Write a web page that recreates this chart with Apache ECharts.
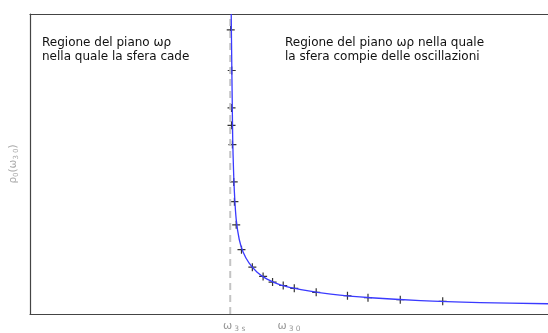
<!DOCTYPE html>
<html>
<head>
<meta charset="utf-8">
<script src="https://cdn.jsdelivr.net/npm/echarts@6/dist/echarts.min.js"></script>
<style>html,body{margin:0;padding:0;background:#fff}#c{width:548px;height:333px}</style>
</head>
<body>
<div id="c"></div>
<script>
// x in arbitrary omega units, y in arbitrary rho units
const xRange = [0, 520];
const yRange = [0, 301];
const asymptoteX = 201;
const tickValues = [205, 260];
const tickLabels = ['{w|ω}{s|3 s}', '{w|ω}{s|3 0}'];
const curveX = [202, 202.5, 203, 203.5, 204.3, 205.3, 207, 210, 214, 220, 228, 238, 252, 272, 302, 342, 392, 452, 520];
const curveY = [301, 255, 215, 175, 145, 120, 95, 75, 62, 51, 42, 35, 29, 24.5, 20, 16.3, 13.4, 11.5, 10.3];
const measX = [201.5, 202.5, 202.3, 202.3, 203.2, 204.5, 205.2, 207, 212.3, 223.2, 234, 243.5, 254.2, 265.3, 287.3, 318.7, 339.3, 371.7, 414.3];
const measY = [285, 244.3, 206.8, 189.3, 170, 132.5, 112.7, 89.5, 64.5, 47, 37.7, 32, 28.6, 25.8, 21.7, 18.3, 16.3, 14.3, 12.7];

const chart = echarts.init(document.getElementById('c'), null, {renderer: 'canvas'});
const font = 'DejaVu Sans';
chart.setOption({
  animation: false,
  backgroundColor: '#fff',
  grid: {left: 28, right: 0, top: 14, bottom: 18, containLabel: false},
  xAxis: [{
    type: 'value', min: xRange[0], max: xRange[1],
    axisLine: {show: true, lineStyle: {color: '#444', width: 1.2}},
    axisTick: {show: false},
    splitLine: {show: false},
    axisLabel: {
      customValues: tickValues,
      margin: 5,
      formatter: function (v) { return tickLabels[tickValues.indexOf(v)] || ''; },
      rich: {
        w: {fontFamily: font, fontSize: 11, color: '#999', lineHeight: 14, verticalAlign: 'middle'},
        s: {fontFamily: font, fontSize: 7.5, color: '#999', verticalAlign: 'bottom', padding: [0, 0, 0, 2]}
      }
    }
  }, {
    type: 'value', position: 'top', min: xRange[0], max: xRange[1],
    axisLine: {show: true, lineStyle: {color: '#444', width: 1.2}},
    axisTick: {show: false}, axisLabel: {show: false}, splitLine: {show: false}
  }],
  yAxis: {
    type: 'value', min: yRange[0], max: yRange[1],
    axisLine: {show: true, lineStyle: {color: '#444', width: 1.2}},
    axisTick: {show: false}, axisLabel: {show: false}, splitLine: {show: false},
    name: '{w|ρ}{s|0}{w|(ω}{s|3 0}{w|)}',
    nameLocation: 'middle', nameGap: 10, nameRotate: 90,
    nameTextStyle: {
      rich: {
        w: {fontFamily: font, fontSize: 10.5, color: '#aaa', lineHeight: 13, verticalAlign: 'middle'},
        s: {fontFamily: font, fontSize: 7, color: '#aaa', verticalAlign: 'bottom'}
      }
    }
  },
  series: [{
    type: 'line', xAxisIndex: 0,
    data: [[asymptoteX, yRange[0]], [asymptoteX, yRange[1]]],
    symbol: 'none', silent: true,
    lineStyle: {color: '#c4c4c4', width: 2, type: [7, 5]}
  }, {
    type: 'line', xAxisIndex: 0,
    data: curveX.map((x, i) => [x, curveY[i]]),
    symbol: 'none', smooth: 0.3, clip: true,
    lineStyle: {color: '#3a3aff', width: 1.3}
  }, {
    type: 'scatter', xAxisIndex: 0,
    data: measX.map((x, i) => [x, measY[i]]),
    symbol: 'path://M5,0L5,10M0,5L10,5', symbolSize: 8,
    itemStyle: {color: 'none', borderColor: '#000', borderWidth: 1.2}
  }],
  graphic: [{
    type: 'text', left: 42, top: 36,
    style: {text: 'Regione del piano ωρ\nnella quale la sfera cade', font: '12px "DejaVu Sans"', fill: '#111', lineHeight: 14}
  }, {
    type: 'text', left: 285, top: 36,
    style: {text: 'Regione del piano ωρ nella quale\nla sfera compie delle oscillazioni', font: '12px "DejaVu Sans"', fill: '#111', lineHeight: 14}
  }]
});
</script>
</body>
</html>
